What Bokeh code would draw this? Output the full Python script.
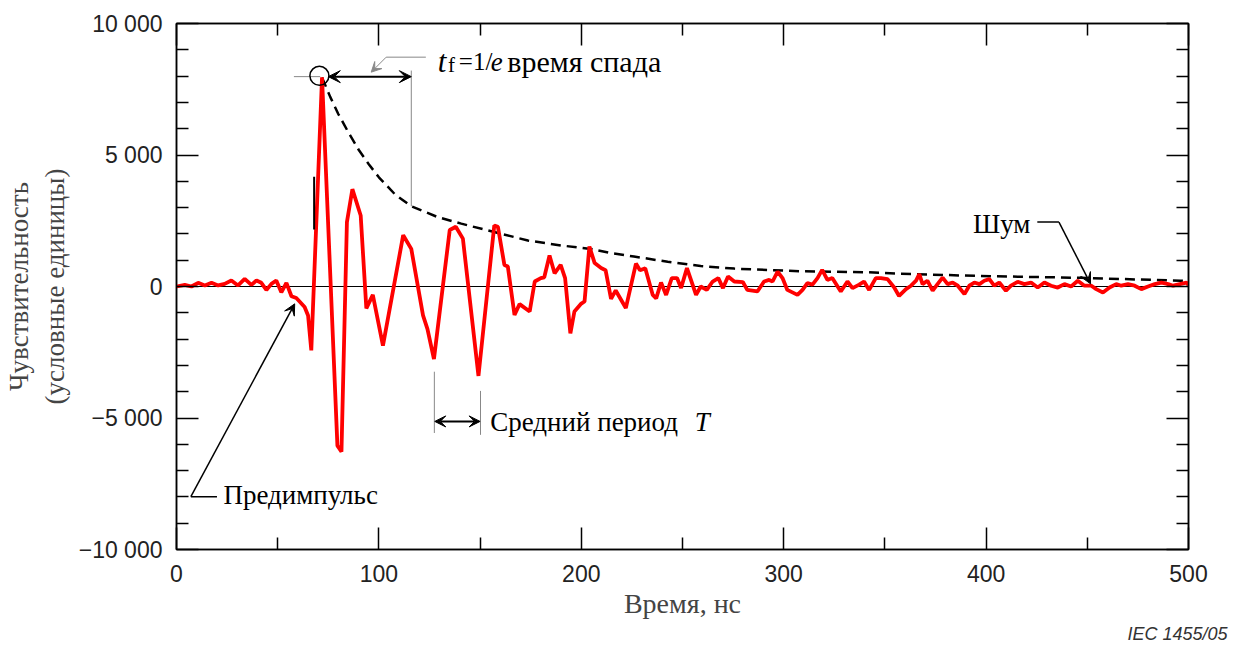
from bokeh.plotting import figure
from bokeh.models import (LinearAxis, FixedTicker, Range1d, Label, Arrow, VeeHead, Span, Title)
from bokeh.embed import file_html
from bokeh.resources import INLINE

# ---- data ----
time_ns = [0, 4.1, 7.4, 10.7, 14, 17.3, 20.6, 23.8, 27.1, 30.4, 33.7, 37, 39.5, 41.9, 44.4,
           46.9, 49.3, 51.8, 54.3, 56.8, 59.2, 63.3, 65, 66.6, 71.9, 79.5, 81.5, 84.2, 86.9,
           91, 93.8, 97, 102, 112, 116, 121.8, 124, 127.2, 135, 138, 141.5, 149.2, 157,
           158.8, 162, 163.7, 167, 169.5, 174.5, 177, 180, 181.7, 184.3, 186.8, 189.8, 192,
           194.6, 196.6, 200, 201.6, 204, 206.6, 209.8, 212, 214.7, 217, 222, 227, 229,
           231.6, 235.3, 237, 239.4, 241.9, 244.7, 247.3, 249.3, 252.2, 256.7, 259, 262,
           264.9, 267.7, 270, 272.5, 275.6, 279.8, 282, 287, 290.3, 292.8, 294.5, 297,
           299.4, 301.8, 306.8, 309.3, 311.7, 314.2, 316.7, 319, 321.6, 324, 328.2, 331.5,
           334, 337.3, 339.7, 342.2, 345.5, 348, 351.3, 354.6, 357, 360.4, 362.9, 365.4,
           367, 368.6, 371, 373.6, 376, 378.5, 381, 383.5, 386, 389.3, 391.7, 394.2, 396.7,
           399.1, 401.6, 404, 406.5, 409.8, 412.3, 415.6, 418.9, 422.2, 425.5, 428.8,
           432.1, 435.4, 438.7, 442, 445.3, 448.6, 452, 454.4, 457.7, 461, 464.3, 466.8,
           470.1, 473.4, 476.7, 480, 483.3, 486.6, 490, 492.4, 495.7, 499, 500]
signal = [0, 60, 0, 140, 40, 140, 40, 100, 230, 40, 290, 60, 230, 140, -130,
          100, 230, -220, 140, -370, -440, -780, -1100, -2430, 7950, -6050, -6280, 2450, 3700,
          2700, -830, -320, -2250, 1950, 1430, -1100, -1620, -2760, 2150, 2270, 1820, -3400, 2320,
          2270, 820, 760, -1080, -670, -950, 190, 320, 350, 1180, 500, 820, 320,
          -1780, -950, -650, -570, 1520, 890, 700, 620, -470, -150, -820, 870, 620,
          690, -320, -450, 150, -320, 320, 320, -60, 700, -320, 0, -130,
          190, 320, -60, 380, 190, 170, -130, -190, 190, 250, 190, 570,
          320, -130, -320, -130, 130, 70, 320, 630, 250, 320, -190, 190,
          -60, 70, 190, -130, 320, 320, 280, -40, -360, -100, 30, 220,
          470, 90, 220, -160, 90, 340, 90, 150, 30, -290, 30, 150, 90,
          220, 280, 30, 150, -160, 30, 180, 90, 150, -40, 150,
          30, -40, 90, 0, 220, 30, 30, -100, -230, -40, 90, 30,
          90, 30, -100, 0, 90, 150, 90, 30, 90, 150, 60]

env_time = [71.9, 76, 80, 85, 90, 95, 100, 108, 116, 129, 140.7, 157, 173.6, 190, 204.8,
            213.9, 226, 242.7, 259, 275.6, 292, 308.5, 325, 341.4, 356, 397, 446.7, 496, 500]
env_value = [7950, 7200, 6550, 5850, 5200, 4650, 4150, 3500, 3050, 2640, 2390, 2070, 1750, 1560,
             1430, 1280, 1140, 940, 780, 680, 630, 580, 560, 540, 490, 400, 330, 220, 210]

x_ticks = [0, 100, 200, 300, 400, 500]
x_minor = [50, 150, 250, 350, 450]
y_ticks = [-10000, -5000, 0, 5000, 10000]
y_tick_labels = ["\u221210 000", "\u22125 000", "0", "5 000", "10 000"]
y_minor = [-9000, -8000, -7000, -6000, -4000, -3000, -2000, -1000,
           1000, 2000, 3000, 4000, 6000, 7000, 8000, 9000]

SERIF = "Liberation Serif"
SANS = "Liberation Sans"

p = figure(width=1238, height=646, output_backend="svg", toolbar_location=None,
           x_range=Range1d(0, 500), y_range=Range1d(-10000, 10000),
           min_border_left=175, min_border_right=50, min_border_top=23, min_border_bottom=97,
           x_axis_label="Время, нс", y_axis_label="Чувствительность\n(условные единицы)")
p.grid.visible = False
p.outline_line_color = "black"
p.outline_line_width = 1.5
p.background_fill_color = "white"
p.border_fill_color = "white"

bottom = p.below[0]
left = p.left[0]
top = LinearAxis()
right = LinearAxis()
p.add_layout(top, "above")
p.add_layout(right, "right")

for ax in [bottom, top]:
    ax.ticker = FixedTicker(ticks=x_ticks, minor_ticks=x_minor)
for ax in [left, right]:
    ax.ticker = FixedTicker(ticks=y_ticks, minor_ticks=y_minor)

for ax in [bottom, top, left, right]:
    ax.major_tick_in = 22
    ax.major_tick_out = 0
    ax.minor_tick_in = 12
    ax.minor_tick_out = 0
    ax.major_tick_line_width = 1.5
    ax.minor_tick_line_width = 1.5
    ax.axis_line_width = 1.5
    ax.major_tick_line_color = "black"
    ax.minor_tick_line_color = "black"
    ax.axis_line_color = "black"

for ax in [top, right]:
    ax.major_label_text_font_size = "8px"
    ax.major_label_text_color = None
    ax.major_label_standoff = 0

bottom.major_label_text_font = SANS
bottom.major_label_text_font_size = "23px"
bottom.major_label_text_color = "#222222"
bottom.major_label_standoff = 15
bottom.axis_label_text_font = SERIF
bottom.axis_label_text_font_size = "28px"
bottom.axis_label_text_font_style = "normal"
bottom.axis_label_standoff = 3

left.major_label_overrides = {t: l for t, l in zip(y_ticks, y_tick_labels)}
left.major_label_text_font = SANS
left.major_label_text_font_size = "23px"
left.major_label_text_color = "#222222"
left.major_label_standoff = 14
left.axis_label_text_font = SERIF
left.axis_label_text_font_size = "27px"
left.axis_label_text_font_style = "normal"
left.axis_label_standoff = 6

p.add_layout(Title(text="IEC  1455/05", align="right", offset=-44, text_font=SANS,
                   text_font_style="italic", text_font_size="18px", text_color="#333333",
                   standoff=0), "below")

p.add_layout(Span(location=0, dimension="width", line_color="black", line_width=1, level="underlay"))

# envelope and signal
p.line(env_time, env_value, line_color="black", line_width=2.5, line_dash="10 6")
p.line(time_ns, signal, line_color="#ff0000", line_width=3.8)

# peak marker
p.line([58, 71], [7980, 7980], line_color="#888888", line_width=1)
p.scatter([70.6], [8010], marker="circle", size=19, fill_color=None, line_color="black", line_width=1.5)
p.line([68, 68], [2170, 4170], line_color="black", line_width=2)

# decay time arrow
p.add_layout(Arrow(start=VeeHead(size=12, fill_color="black", line_color="black"),
                   end=VeeHead(size=12, fill_color="black", line_color="black"),
                   x_start=75, y_start=7980, x_end=116, y_end=7980,
                   line_color="black", line_width=2))
p.line([116, 116], [8210, 3050], line_color="#888888", line_width=1)
p.line([123.2, 103.6], [8720, 8720], line_color="#888888", line_width=1)
p.add_layout(Arrow(end=VeeHead(size=10, fill_color="#888888", line_color="#888888"),
                   x_start=103.6, y_start=8720, x_end=96.2, y_end=8150,
                   line_color="#888888", line_width=1))

base_y = 8550
p.add_layout(Label(x=129.1, y=base_y, text="t", text_font=SERIF, text_font_style="italic",
                   text_font_size="31px", text_baseline="alphabetic", text_color="black"))
p.add_layout(Label(x=134.1, y=base_y - 130, text="f", text_font=SERIF,
                   text_font_size="21px", text_baseline="alphabetic", text_color="black"))
p.add_layout(Label(x=139.5, y=base_y, text="=1/", text_font=SERIF,
                   text_font_size="25px", text_baseline="alphabetic", text_color="black"))
p.add_layout(Label(x=155.3, y=base_y, text="e", text_font=SERIF, text_font_style="italic",
                   text_font_size="27px", text_baseline="alphabetic", text_color="black"))
p.add_layout(Label(x=163.4, y=base_y, text="время спада", text_font=SERIF,
                   text_font_size="30px", text_baseline="alphabetic", text_color="black"))

# period
p.line([127.4, 127.4], [-3240, -5570], line_color="#888888", line_width=1)
p.line([150.2, 150.2], [-3970, -5640], line_color="#888888", line_width=1)
p.add_layout(Arrow(start=VeeHead(size=11, fill_color="black", line_color="black"),
                   end=VeeHead(size=11, fill_color="black", line_color="black"),
                   x_start=127.6, y_start=-5130, x_end=150, y_end=-5130,
                   line_color="black", line_width=2))
p.add_layout(Label(x=155, y=-5170, text="Средний период", text_font=SERIF,
                   text_font_size="27px", text_baseline="middle", text_color="black"))
p.add_layout(Label(x=256, y=-5170, text="T", text_font=SERIF, text_font_style="italic",
                   text_font_size="27px", text_baseline="middle", text_color="black"))

# pre-pulse
p.line([20, 7.1], [-7990, -7990], line_color="black", line_width=1.5)
p.add_layout(Arrow(end=VeeHead(size=11, fill_color="black", line_color="black"),
                   x_start=7.1, y_start=-7990, x_end=58.4, y_end=-660,
                   line_color="black", line_width=1.5))
p.add_layout(Label(x=23.2, y=-7920, text="Предимпульс", text_font=SERIF,
                   text_font_size="27px", text_baseline="middle", text_color="black"))

# noise
p.line([425.3, 436], [2450, 2450], line_color="black", line_width=1.5)
p.add_layout(Arrow(end=VeeHead(size=11, fill_color="black", line_color="black"),
                   x_start=436, y_start=2450, x_end=451.6, y_end=100,
                   line_color="black", line_width=1.5))
p.add_layout(Label(x=393.5, y=2380, text="Шум", text_font=SERIF,
                   text_font_size="27px", text_baseline="middle", text_color="black"))

open("out.html", "w").write(file_html(p, INLINE))
